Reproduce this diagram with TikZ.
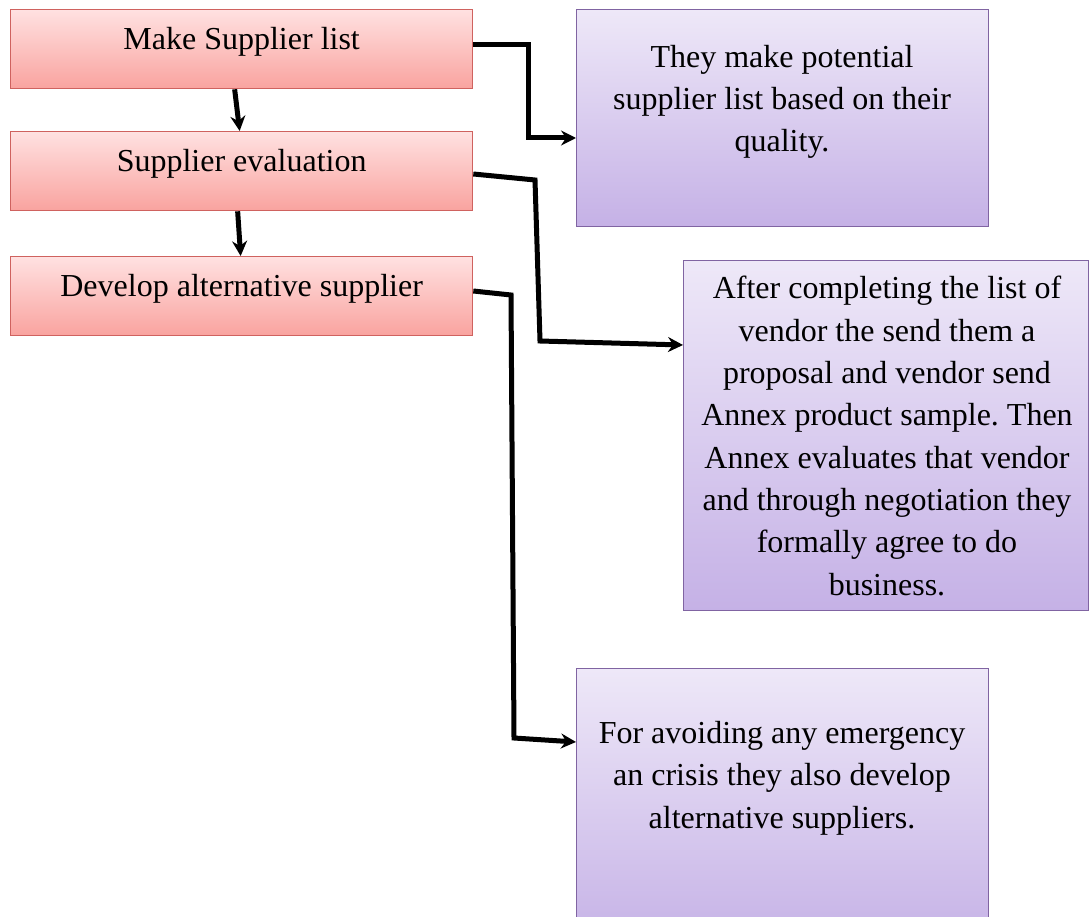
\documentclass[tikz,border=0pt]{standalone}
\usepackage{fontspec}
\setmainfont{Liberation Serif}
\usetikzlibrary{arrows.meta}
\frenchspacing
\definecolor{redtop}{HTML}{FFE1E1}
\definecolor{redbot}{HTML}{F9A39F}
\definecolor{redline}{HTML}{CF625F}
\definecolor{purtop}{HTML}{EEE8F8}
\definecolor{purbot}{HTML}{C5B1E6}
\definecolor{purline}{HTML}{8064A2}
\begin{document}
\begin{tikzpicture}[x=1pt,y=-1pt,
  redbox/.style={draw=redline, line width=1.3pt, top color=redtop, bottom color=redbot,
    minimum width=462pt, minimum height=79pt, inner sep=0pt, anchor=north west,
    font=\fontsize{32}{38}\selectfont, text height=22pt, text depth=22pt},
  purbox/.style={draw=purline, line width=1.3pt, top color=purtop, bottom color=purbot,
    inner sep=0pt, anchor=north west},
  ptext/.style={align=center, inner sep=0pt, font=\fontsize{32}{42.3}\selectfont},
  arr/.style={line width=5pt, line join=miter, -{Stealth[length=15pt,width=15pt,inset=5pt]}}]
\useasboundingbox (0,0) rectangle (1089,917);
\clip (0,0) rectangle (1089,917);
% left boxes
\node[redbox] (m1) at (10,9) {Make Supplier list};
\node[redbox] (m2) at (10,131) {Supplier evaluation};
\node[redbox] (m3) at (10,256) {Develop alternative supplier};
% right boxes
\node[purbox, minimum width=412pt, minimum height=217pt] (p1) at (576,9) {};
\node[purbox, minimum width=405pt, minimum height=350pt] (p2) at (683,260) {};
\node[purbox, minimum width=412pt, minimum height=280pt] (p3) at (576,668) {};
\node[ptext] (p1t) at (782,102) {They make potential\\supplier list based on their\\quality.};
\node[ptext] (p2t) at (887,436) {After completing the list of\\vendor the send them a\\proposal and vendor send\\Annex product sample. Then\\Annex evaluates that vendor\\and through negotiation they\\formally agree to do\\business.};
\node[ptext] (p3t) at (782,778) {For avoiding any emergency\\an crisis they also develop\\alternative suppliers.};
% helper coordinates
\coordinate (a0) at (0,45);
\coordinate (a1) at (528,45);
\coordinate (a2) at (528,138);
\coordinate (b0) at (0,174);
\coordinate (b1) at (535,180);
\coordinate (b2) at (540,341);
\coordinate (b3) at (0,345);
\coordinate (c0) at (0,291);
\coordinate (c1) at (511,295);
\coordinate (c2) at (514,738);
\coordinate (c3) at (0,742);
% connectors
\draw[arr] ([xshift=-7pt]m1.south) -- ([xshift=-2pt]m2.north);
\draw[arr] ([xshift=-4pt]m2.south) -- ([xshift=-1pt]m3.north);
\draw[arr] (m1.east |- a0) -- (a1) -- (a2) -- (p1.west |- a2);
\draw[arr] (m2.east |- b0) -- (b1) -- (b2) -- (p2.west |- b3);
\draw[arr] (m3.east |- c0) -- (c1) -- (c2) -- (p3.west |- c3);
\end{tikzpicture}
\end{document}
